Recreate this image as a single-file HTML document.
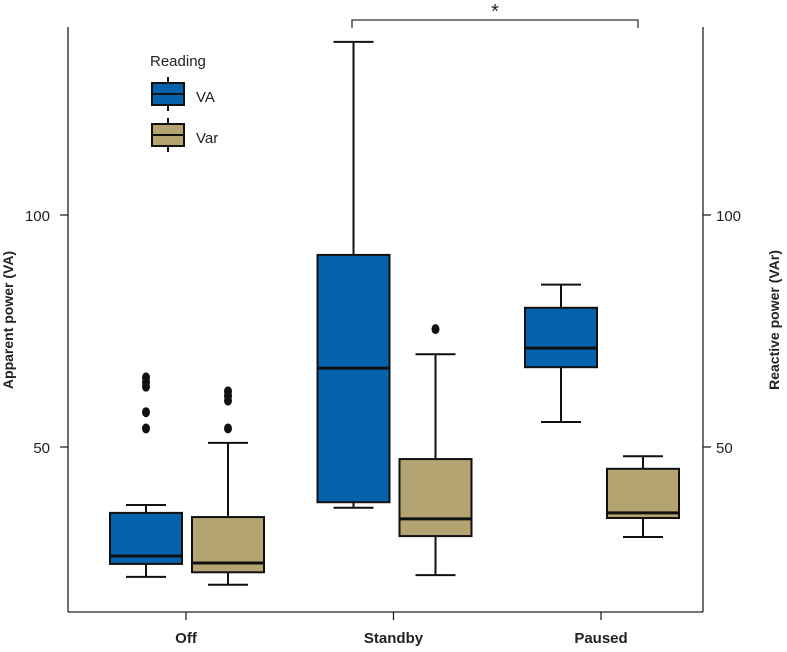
<!DOCTYPE html>
<html><head><meta charset="utf-8"><style>
body{margin:0;background:#fff;}
svg{font-family:"Liberation Sans",Arial,sans-serif;}
</style></head><body>
<svg id="chart" width="787" height="647">
<g id="axes"></g>
<g id="boxes"></g>
<g id="legend">
<text x="150" y="66" font-size="15" fill="#222">Reading</text>
<g>
<line x1="168" y1="77" x2="168" y2="111" stroke="#111" stroke-width="2"/>
<rect x="152" y="83" width="32" height="22" fill="#0563ad" stroke="#111" stroke-width="2"/>
<line x1="152" y1="94" x2="184" y2="94" stroke="#111" stroke-width="2"/>
<text x="196" y="102" font-size="15" fill="#222">VA</text></g>
<g>
<line x1="168" y1="118" x2="168" y2="152" stroke="#111" stroke-width="2"/>
<rect x="152" y="124" width="32" height="22" fill="#b3a471" stroke="#111" stroke-width="2"/>
<line x1="152" y1="135" x2="184" y2="135" stroke="#111" stroke-width="2"/>
<text x="196" y="143" font-size="15" fill="#222">Var</text></g>
</g>
<g>
<polyline points="352,28 352,20 638,20 638,28" fill="none" stroke="#333" stroke-width="1.3"/>
<text x="495" y="18" font-size="20" text-anchor="middle" fill="#222">*</text>
</g>
<text transform="translate(13,320) rotate(-90)" font-size="14" font-weight="bold" text-anchor="middle" fill="#222">Apparent power (VA)</text>
<text transform="translate(779,320) rotate(-90)" font-size="14" font-weight="bold" text-anchor="middle" fill="#222">Reactive power (VAr)</text>
</svg>
<script>
const categories=["Off","Standby","Paused"];
const yTicks=[50,100];
const vaMin=[22,36.9,55.4];
const vaQ1=[24.8,38.1,67.2];
const vaMed=[26.5,67,71.3];
const vaQ3=[35.8,91.4,80];
const vaMax=[37.5,137.3,85];
const vaOut=[[65,64,63,57.5,54],[],[]];
const varMin=[20.3,22.4,30.6];
const varQ1=[23,30.8,34.7];
const varMed=[25,34.5,35.8];
const varQ3=[34.9,47.4,45.3];
const varMax=[50.9,70,48];
const varOut=[[62,61,60,54],[75.4],[]];

const NS="http://www.w3.org/2000/svg";
function y(v){return 447-(v-50)*4.64;}
function xc(i){return 186+i*207.5;}
function mk(p,tag,at){const e=document.createElementNS(NS,tag);for(const k in at)e.setAttribute(k,at[k]);p.appendChild(e);return e;}
const ax=document.getElementById('axes');
mk(ax,'line',{x1:68,y1:27,x2:68,y2:612,stroke:'#222','stroke-width':1.3});
mk(ax,'line',{x1:703,y1:27,x2:703,y2:612,stroke:'#222','stroke-width':1.3});
mk(ax,'line',{x1:68,y1:612,x2:703,y2:612,stroke:'#222','stroke-width':1.3});
yTicks.forEach(t=>{
 mk(ax,'line',{x1:60,y1:y(t),x2:68,y2:y(t),stroke:'#222','stroke-width':1.3});
 mk(ax,'line',{x1:703,y1:y(t),x2:711,y2:y(t),stroke:'#222','stroke-width':1.3});
 const a=mk(ax,'text',{x:50,y:y(t)+6,'font-size':15,'text-anchor':'end',fill:'#222'});a.textContent=t;
 
 
 const b=mk(ax,'text',{x:716,y:y(t)+6,'font-size':15,fill:'#222'});b.textContent=t;
 
 
});
categories.forEach((c,i)=>{
 mk(ax,'line',{x1:xc(i),y1:612,x2:xc(i),y2:620,stroke:'#222','stroke-width':1.3});
 const t=mk(ax,'text',{x:xc(i),y:643,'font-size':15,'font-weight':'bold','text-anchor':'middle',fill:'#222'});t.textContent=c;
 
 
});
const bx=document.getElementById('boxes');
function box(cx,mn,q1,md,q3,mx,out,col,name){
 const g=mk(bx,'g',{});
 
 
 const w=72,st={stroke:'#111','stroke-width':2};
 mk(g,'line',Object.assign({x1:cx,y1:y(mx),x2:cx,y2:y(mn)},st));
 mk(g,'line',Object.assign({x1:cx-20,y1:y(mx),x2:cx+20,y2:y(mx)},st));
 mk(g,'line',Object.assign({x1:cx-20,y1:y(mn),x2:cx+20,y2:y(mn)},st));
 mk(g,'rect',Object.assign({x:cx-w/2,y:y(q3),width:w,height:y(q1)-y(q3),fill:col},st));
 mk(g,'line',{x1:cx-w/2,y1:y(md),x2:cx+w/2,y2:y(md),stroke:'#111','stroke-width':3});
 out.forEach(o=>{mk(g,'ellipse',{cx:cx,cy:y(o),rx:4,ry:5,fill:'#111'});});
}
categories.forEach((c,i)=>{
 box(xc(i)-40,vaMin[i],vaQ1[i],vaMed[i],vaQ3[i],vaMax[i],vaOut[i],'#0563ad','box-va-'+c.toLowerCase());
 box(xc(i)+42,varMin[i],varQ1[i],varMed[i],varQ3[i],varMax[i],varOut[i],'#b3a471','box-var-'+c.toLowerCase());
});
</script>
</body></html>
